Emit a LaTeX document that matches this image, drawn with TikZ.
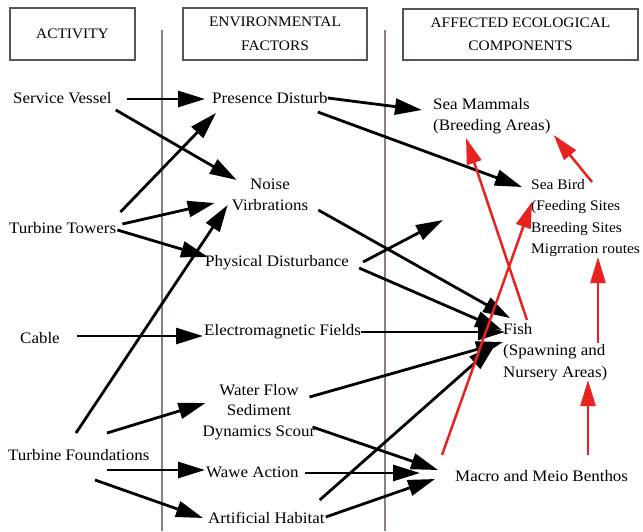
\documentclass[tikz,border=0pt]{standalone}
\usepackage{fontspec}
\setmainfont{Liberation Serif}[FakeStretch=1.06]
\usetikzlibrary{arrows.meta,calc}

\definecolor{frame}{RGB}{90,83,80}
\definecolor{divider}{RGB}{140,128,122}
\definecolor{impact}{RGB}{232,35,30}

\tikzset{
  lbl/.style={inner sep=0pt, anchor=west, font=\fontsize{16}{21}\selectfont},
  lblc/.style={inner sep=0pt, align=center, font=\fontsize{16}{20.5}\selectfont},
  lbll/.style={inner sep=0pt, anchor=west, align=left, font=\fontsize{16}{21.5}\selectfont},
  head/.style={draw=frame, line width=1.5pt, align=center, inner sep=0pt,
    font=\fontsize{14.5}{23.5}\selectfont},
  flow/.style={line width=2.8pt, -{Triangle[length=27pt,width=16pt]}},
  effect/.style={draw=impact, line width=2.5pt, -{Triangle[length=26pt,width=15pt,fill=impact]}},
}

\begin{document}
\begin{tikzpicture}[x=1pt,y=-1pt]
\useasboundingbox (0,0) rectangle (643,531);

% column dividers
\draw[divider, line width=1.2pt] (162,30) -- (162,531);
\draw[divider, line width=1.2pt] (385,30) -- (385,531);

% column headings
\node[head, minimum width=125pt, minimum height=52pt] (h1) at (72.5,34) {ACTIVITY};
\node[head, minimum width=184pt, minimum height=52pt] (h2) at (275,34) {ENVIRONMENTAL\\FACTORS};
\node[head, minimum width=235pt, minimum height=51pt] (h3) at (520.5,34.5) {AFFECTED ECOLOGICAL\\COMPONENTS};

% activities
\node[lbl] (sv) at (13,98) {Service Vessel};
\node[lbl] (tt) at (9,228) {Turbine Towers};
\node[lbl] (cab) at (20,338) {Cable};
\node[lbl] (tf) at (8,455) {Turbine Foundations};

% environmental factors
\node[lbl] (pd) at (212,98) {Presence Disturb};
\node[lblc] (nv) at (270,195) {Noise\\Virbrations};
\node[lbl] (phys) at (205,263) {Physical Disturbance};
\node[lbl] (em) at (204,332) {Electromagnetic Fields};
\node[lblc] (wf) at (259,412) {Water Flow\\Sediment\\Dynamics Scour};
\node[lbl] (wa) at (206,472) {Wawe Action};
\node[lbl] (ah) at (208,518) {Artificial Habitat};

% ecological components
\node[lbll] (sm) at (433,116) {Sea Mammals\\(Breeding Areas)};
\node[lbll, font=\fontsize{14.6}{21.2}\selectfont] (sb) at (531,218) {Sea Bird\\(Feeding Sites\\Breeding Sites\\Migrration routes};
\node[lbll] (fish) at (503,352) {Fish\\(Spawning and\\Nursery Areas)};
\node[lbl] (mb) at (455,476) {Macro and Meio Benthos};

\coordinate (open) at (443,220);

% activity -> factor
\draw[flow] ($(sv.east)+(15,1)$) -- ($(pd.west)+(-7,1)$);
\draw[flow] ($(sv.east)+(4,12)$) -- ($(nv.west)+(5,-15)$);
\draw[flow] ($(tt.east)+(4,-16)$) -- ($(pd.west)+(4,15)$);
\draw[flow] ($(tt.east)+(6,-4)$) -- ($(nv.west)+(-17,8)$);
\draw[flow] ($(tt.east)+(1,2)$) -- ($(phys.west)+(3,-6)$);
\draw[flow] ($(tf.west)+(68,-22)$) -- ($(nv.west)+(-4,10)$);
\draw[flow] ($(cab.east)+(17,-2)$) -- ($(em.west)+(-1,4)$);
\draw[flow] ($(tf.west)+(99,-22)$) -- ($(wf.west)+(3,-9)$);
\draw[flow] ($(tf.west)+(99,15)$) -- ($(wa.west)+(-1,-2)$);
\draw[flow] ($(tf.west)+(87,25)$) -- ($(ah.west)+(-5,0)$);

% factor -> component
\draw[flow] ($(pd.east)+(0,0)$) -- ($(sm.west)+(-11,-6)$);
\draw[flow] ($(pd.east)+(-10,14)$) -- ($(sb.west)+(-9,-31)$);
\draw[flow] ($(nv.east)+(10,15)$) -- ($(fish.west)+(7,-34)$);
\draw[flow] ($(phys.east)+(14,-1)$) -- (open);
\draw[flow] ($(phys.east)+(10,5)$) -- ($(fish.west)+(-1,-22)$);
\draw[flow] ($(em.east)+(0,0)$) -- ($(fish.west)+(2,-20)$);
\draw[flow] ($(wf.east)+(-6,-15)$) -- ($(fish.west)+(0,-10)$);
\draw[flow] ($(ah.east)+(-5,-18)$) -- ($(fish.west)+(-8,-7)$);
\draw[flow] ($(wf.east)+(-3,15)$) -- ($(mb.west)+(-17,-6)$);
\draw[flow] ($(wa.east)+(6,1)$) -- ($(mb.west)+(-35,-3)$);
\draw[flow] ($(ah.east)+(1,-1)$) -- ($(mb.west)+(-20,3)$);

% links between components
\draw[effect] ($(sb.west)+(61,-36)$) -- ($(sm.east)+(3,19)$);
\draw[effect] ($(fish.west)+(24,-32)$) -- ($(sm.west)+(33,22)$);
\draw[effect] ($(mb.west)+(-13,-21)$) -- ($(sb.west)+(1,-16)$);
\draw[effect] ($(fish.west)+(95,-9)$) -- ($(sb.west)+(67,39)$);
\draw[effect] ($(mb.west)+(133,-21)$) -- ($(fish.west)+(85,28)$);
\end{tikzpicture}
\end{document}
